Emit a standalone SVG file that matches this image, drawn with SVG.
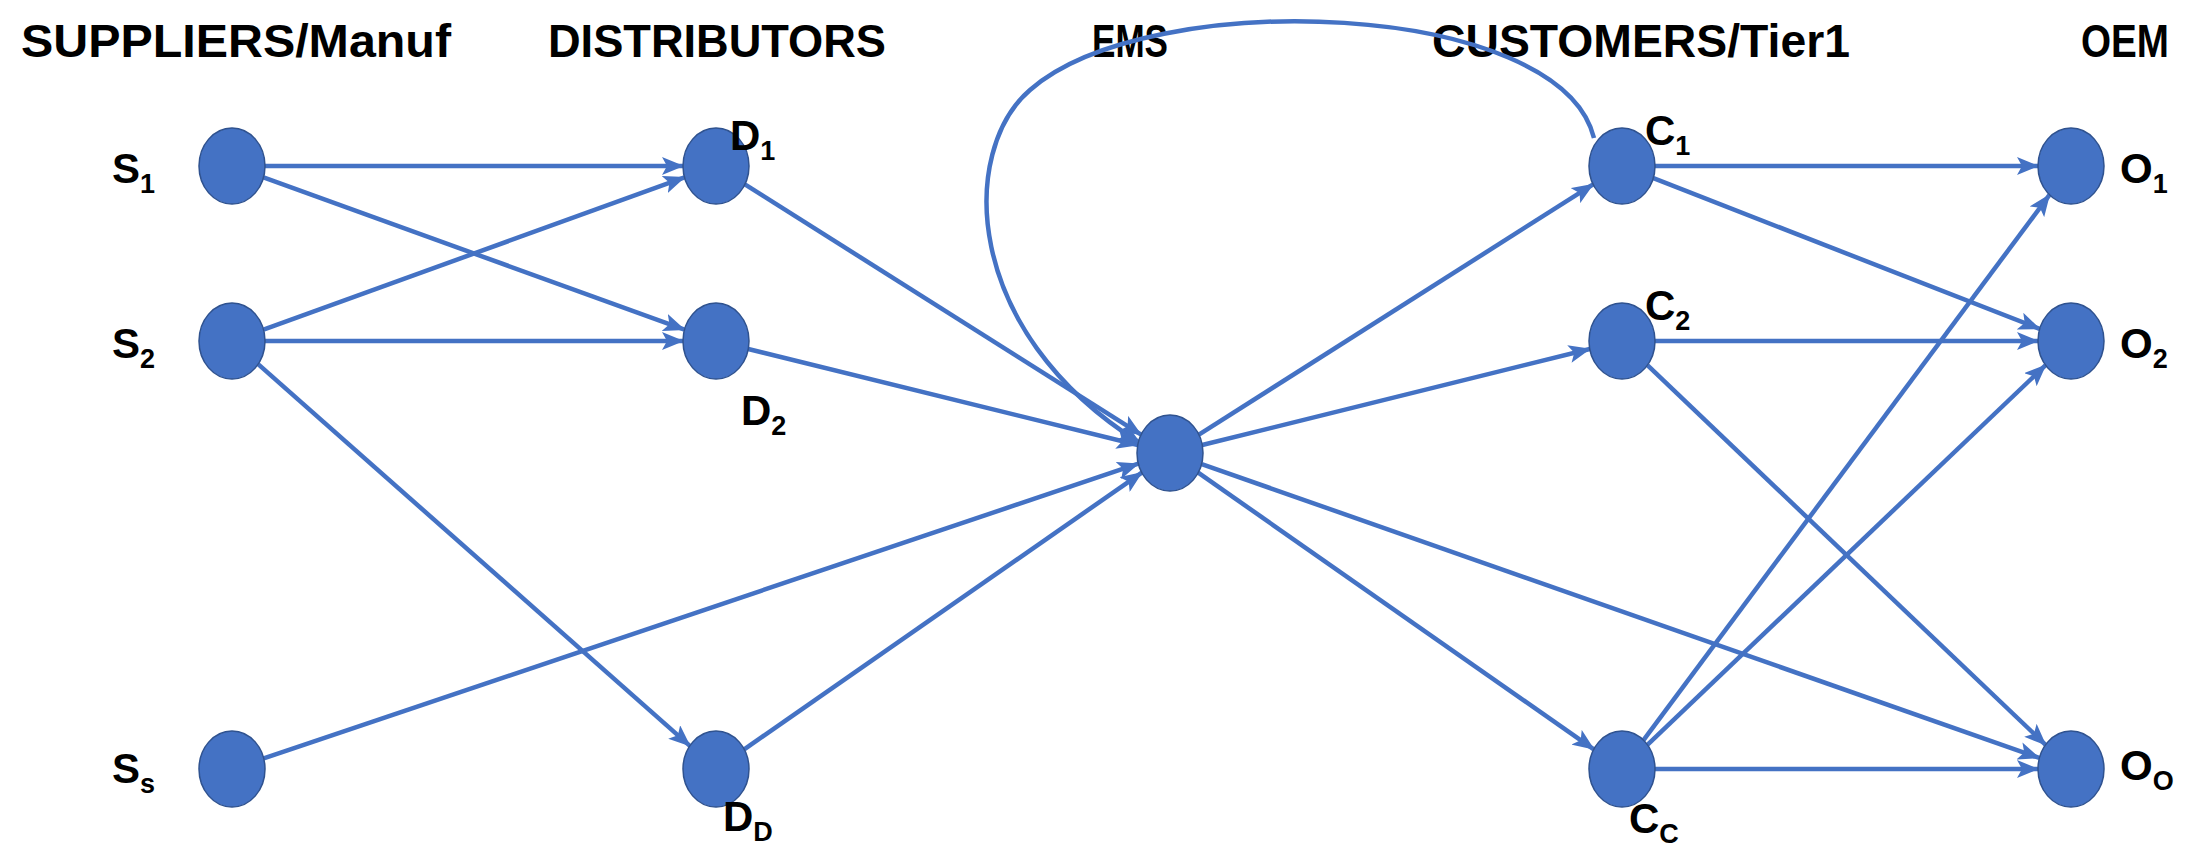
<svg xmlns="http://www.w3.org/2000/svg" width="2201" height="853" viewBox="0 0 2201 853">
<style>
.h{font-family:"Liberation Sans",Arial,sans-serif;font-weight:bold;font-size:46px;fill:#000}
.l{font-family:"Liberation Sans",Arial,sans-serif;font-weight:bold;font-size:42px;fill:#000}
.s{font-size:27px}
.n{fill:#4472C4;stroke:#2F528F;stroke-width:1.5}
.e{stroke:#4472C4;stroke-width:4.5;fill:none;marker-end:url(#a)}
</style>
<defs>
<marker id="a" markerUnits="userSpaceOnUse" markerWidth="22" markerHeight="18" refX="21" refY="9" orient="auto">
<path d="M0,0 L22,9 L0,18 L5,9 z" fill="#4472C4"/>
</marker>
</defs>
<rect width="2201" height="853" fill="#fff"/>
<g id="headings">
<text class="h" x="21" y="57" textLength="430" lengthAdjust="spacingAndGlyphs">SUPPLIERS/Manuf</text>
<text class="h" x="548" y="57" textLength="338" lengthAdjust="spacingAndGlyphs">DISTRIBUTORS</text>
<text class="h" x="1092" y="57" textLength="76" lengthAdjust="spacingAndGlyphs">EMS</text>
<text class="h" x="1432" y="57" textLength="418" lengthAdjust="spacingAndGlyphs">CUSTOMERS/Tier1</text>
<text class="h" x="2081" y="57" textLength="88" lengthAdjust="spacingAndGlyphs">OEM</text>
</g>
<g id="connectors">
<line class="e" x1="265" y1="166" x2="683" y2="166"/>
<line class="e" x1="263.5" y1="177.4" x2="684.5" y2="329.6"/>
<line class="e" x1="263.5" y1="329.6" x2="684.5" y2="177.4"/>
<line class="e" x1="265" y1="341" x2="683" y2="341"/>
<line class="e" x1="258.1" y1="364.1" x2="689.9" y2="745.9"/>
<line class="e" x1="263.7" y1="758.3" x2="1138.3" y2="463.7"/>
<line class="e" x1="744.9" y1="184.3" x2="1141.1" y2="434.7"/>
<line class="e" x1="748.2" y1="349" x2="1137.8" y2="445"/>
<line class="e" x1="744.2" y1="749.4" x2="1141.8" y2="472.6"/>
<path class="e" d="M1594,138 C1560,0 1150,-15 1030,90 C960,150 960,330 1140,443"/>
<line class="e" x1="1198.9" y1="434.7" x2="1593.1" y2="184.3"/>
<line class="e" x1="1202.2" y1="445" x2="1589.8" y2="349"/>
<line class="e" x1="1198.2" y1="472.7" x2="1593.8" y2="749.3"/>
<line class="e" x1="1201.7" y1="464.1" x2="2039.3" y2="757.9"/>
<line class="e" x1="1655" y1="166" x2="2038" y2="166"/>
<line class="e" x1="1653.4" y1="178.2" x2="2039.6" y2="328.8"/>
<line class="e" x1="1655" y1="341" x2="2038" y2="341"/>
<line class="e" x1="1647.4" y1="365.2" x2="2045.6" y2="744.8"/>
<line class="e" x1="1643.5" y1="740.1" x2="2049.5" y2="194.9"/>
<line class="e" x1="1647.4" y1="744.8" x2="2045.6" y2="365.2"/>
<line class="e" x1="1655" y1="769" x2="2038" y2="769"/>
</g>
<g id="S1"><ellipse class="n" cx="232" cy="166" rx="33" ry="38"/><text class="l" x="112" y="183">S<tspan class="s" dy="10">1</tspan></text></g>
<g id="S2"><ellipse class="n" cx="232" cy="341" rx="33" ry="38"/><text class="l" x="112" y="358">S<tspan class="s" dy="10">2</tspan></text></g>
<g id="Ss"><ellipse class="n" cx="232" cy="769" rx="33" ry="38"/><text class="l" x="112" y="783">S<tspan class="s" dy="10">s</tspan></text></g>
<g id="D1"><ellipse class="n" cx="716" cy="166" rx="33" ry="38"/><text class="l" x="730" y="150">D<tspan class="s" dy="10">1</tspan></text></g>
<g id="D2"><ellipse class="n" cx="716" cy="341" rx="33" ry="38"/><text class="l" x="741" y="425">D<tspan class="s" dy="10">2</tspan></text></g>
<g id="DD"><ellipse class="n" cx="716" cy="769" rx="33" ry="38"/><text class="l" x="723" y="831">D<tspan class="s" dy="10">D</tspan></text></g>
<g id="EMS"><ellipse class="n" cx="1170" cy="453" rx="33" ry="38"/></g>
<g id="C1"><ellipse class="n" cx="1622" cy="166" rx="33" ry="38"/><text class="l" x="1645" y="145">C<tspan class="s" dy="10">1</tspan></text></g>
<g id="C2"><ellipse class="n" cx="1622" cy="341" rx="33" ry="38"/><text class="l" x="1645" y="320">C<tspan class="s" dy="10">2</tspan></text></g>
<g id="CC"><ellipse class="n" cx="1622" cy="769" rx="33" ry="38"/><text class="l" x="1629" y="833">C<tspan class="s" dy="10">C</tspan></text></g>
<g id="O1"><ellipse class="n" cx="2071" cy="166" rx="33" ry="38"/><text class="l" x="2120" y="183">O<tspan class="s" dy="10">1</tspan></text></g>
<g id="O2"><ellipse class="n" cx="2071" cy="341" rx="33" ry="38"/><text class="l" x="2120" y="358">O<tspan class="s" dy="10">2</tspan></text></g>
<g id="OO"><ellipse class="n" cx="2071" cy="769" rx="33" ry="38"/><text class="l" x="2120" y="780">O<tspan class="s" dy="10">O</tspan></text></g>
</svg>
